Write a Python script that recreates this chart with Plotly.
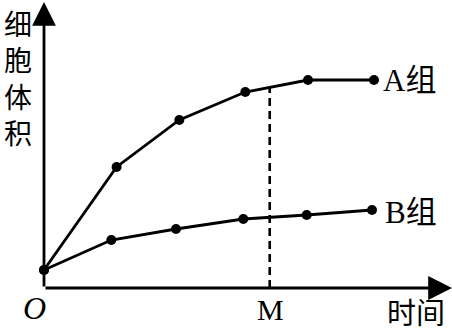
import numpy as np
import plotly.graph_objects as go

# ---- data ----
a_time = [0, 1.1, 2.05, 3.05, 4.0, 5.0]
a_volume = [1.8, 12.1, 16.8, 19.6, 20.8, 20.8]
b_time = [0, 1.02, 2.0, 3.02, 3.98, 4.97]
b_volume = [1.8, 4.8, 5.9, 6.9, 7.3, 7.8]
m_time = 3.42
series_labels = ["A组", "B组"]
x_title = "时间"
y_title = "细胞体积"
m_label = "M"
origin_label = "O"

X_MAX = 408 / 66
Y_MAX = 28.8

fig = go.Figure()

line_style = dict(color="black", width=2.8)
marker_style = dict(color="black", size=10)

fig.add_trace(go.Scatter(x=a_time, y=a_volume, mode="lines+markers",
                         line=line_style, marker=marker_style, cliponaxis=False,
                         showlegend=False))
fig.add_trace(go.Scatter(x=b_time, y=b_volume, mode="lines+markers",
                         line=line_style, marker=marker_style, cliponaxis=False,
                         showlegend=False))

m_top = float(np.interp(m_time, a_time, a_volume))
fig.add_trace(go.Scatter(x=[m_time, m_time], y=[0, m_top], mode="lines",
                         line=dict(color="black", width=2.6, dash="8px,5px"),
                         showlegend=False))

serif = "Liberation Serif, Times New Roman, Noto Sans CJK SC, serif"
cjk = "Noto Sans CJK SC, sans-serif"

annotations = [
    # axes with arrows
    dict(x=X_MAX, y=0, ax=0, ay=0, xref="x", yref="y", axref="x", ayref="y",
         showarrow=True, arrowhead=2, arrowsize=1.7, arrowwidth=2.8,
         arrowcolor="black", text=""),
    dict(x=0, y=28.6, ax=0, ay=0, xref="x", yref="y", axref="x", ayref="y",
         showarrow=True, arrowhead=2, arrowsize=1.7, arrowwidth=2.8,
         arrowcolor="black", text=""),
    # labels
    dict(x=a_time[-1], y=a_volume[-1], xref="x", yref="y", text=series_labels[0],
         showarrow=False, xanchor="left", yanchor="middle", xshift=7,
         font=dict(family=serif, size=31, color="black")),
    dict(x=b_time[-1], y=b_volume[-1], xref="x", yref="y", text=series_labels[1],
         showarrow=False, xanchor="left", yanchor="middle", xshift=11, yshift=-2,
         font=dict(family=serif, size=31, color="black")),
    dict(x=m_time, y=0, xref="x", yref="y", text=m_label, showarrow=False,
         xanchor="center", yanchor="middle", xshift=1, yshift=-21,
         font=dict(family=serif, size=30, color="black")),
    dict(x=0, y=0, xref="x", yref="y", text="<i>" + origin_label + "</i>",
         showarrow=False, xanchor="center", yanchor="middle", xshift=-10, yshift=-20,
         font=dict(family=serif, size=32, color="black")),
    dict(x=(416 - 44) / 66, y=0, xref="x", yref="y", text=x_title, showarrow=False,
         xanchor="center", yanchor="middle", yshift=-23,
         font=dict(family=cjk, size=29, color="black")),
    dict(x=0, y=21.1, xref="x", yref="y", text="<br>".join(list(y_title)),
         showarrow=False, xanchor="center", yanchor="middle", xshift=-26,
         font=dict(family=cjk, size=28, color="black")),
]

fig.update_layout(
    width=452, height=333,
    margin=dict(l=44, r=0, t=0, b=45),
    paper_bgcolor="white", plot_bgcolor="white",
    xaxis=dict(range=[0, X_MAX], visible=False, fixedrange=True),
    yaxis=dict(range=[0, Y_MAX], visible=False, fixedrange=True),
    annotations=annotations,
    showlegend=False,
)

fig.write_html("out.html")
